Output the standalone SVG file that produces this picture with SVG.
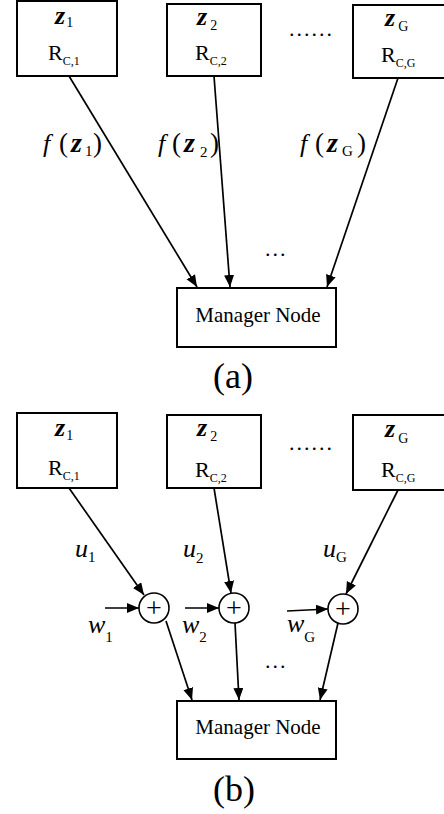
<svg xmlns="http://www.w3.org/2000/svg" width="444" height="814" viewBox="0 0 444 814">
<style>
text{font-family:"Liberation Serif","Times New Roman",serif;fill:#000}
.box{fill:#fff;stroke:#000;stroke-width:2}
.circ{fill:#fff;stroke:#000;stroke-width:1.6}
.arr{stroke:#000;stroke-width:1.7;fill:none;marker-end:url(#ah)}
.z{font-size:28px;font-weight:bold;font-style:italic}
.zb{font-size:26px;font-weight:bold;font-style:italic}
.zs{font-size:14px;font-weight:normal;font-style:normal}
.r{font-size:22px}
.rs{font-size:12px}
.it{font-size:26px;font-style:italic}
.par{font-size:27px}
.sub{font-size:15px;font-style:normal;font-weight:normal}
.mn{font-size:21px}
.cap{font-size:36px}
.dots{font-size:22px;letter-spacing:2px}
.plus{font-size:28px}
</style>
<defs>
<marker id="ah" markerUnits="userSpaceOnUse" markerWidth="13" markerHeight="11" refX="12" refY="5" orient="auto">
<path d="M0,0 L12,5 L0,10 z" fill="#000"/>
</marker>
</defs>

<!-- Panel (a) -->
<g id="a-node1">
<rect class="box" x="17" y="1" width="100" height="75"/>
<text x="55" y="24" class="zb">z<tspan class="zs" dx="1" dy="3">1</tspan></text>
<text x="48" y="60" class="r">R<tspan class="rs" dy="5">C,1</tspan></text>
</g>
<g id="a-node2">
<rect class="box" x="167" y="4" width="94" height="72"/>
<text x="197" y="25" class="zb">z<tspan class="zs" dx="3" dy="5">2</tspan></text>
<text x="195" y="60" class="r">R<tspan class="rs" dy="5">C,2</tspan></text>
</g>
<g id="a-node3">
<rect class="box" x="353" y="5" width="92" height="73"/>
<text x="385" y="26" class="zb">z<tspan class="zs" dx="3" dy="5">G</tspan></text>
<text x="381" y="62" class="r">R<tspan class="rs" dy="5">C,G</tspan></text>
</g>
<text x="289" y="36" class="dots">......</text>
<g id="a-manager">
<rect class="box" x="177" y="288" width="159" height="59"/>
<text x="258" y="322" class="mn" text-anchor="middle">Manager Node</text>
</g>
<g id="a-connectors">
<line class="arr" x1="69" y1="76" x2="197" y2="287"/>
<line class="arr" x1="214" y1="76" x2="230" y2="287"/>
<line class="arr" x1="398" y1="78" x2="327" y2="287"/>
</g>
<g id="a-labels">
<text x="43" y="152" class="it">f</text><text x="59" y="152" class="par">(</text><text x="71" y="152" class="z">z</text><text x="85" y="156" class="sub">1</text><text x="93" y="152" class="par">)</text>
<text x="158" y="152" class="it">f</text><text x="172" y="152" class="par">(</text><text x="184" y="152" class="z">z</text><text x="200" y="157" class="sub">2</text><text x="210" y="152" class="par">)</text>
<text x="300" y="152" class="it">f</text><text x="315" y="152" class="par">(</text><text x="327" y="152" class="z">z</text><text x="342" y="156" class="sub">G</text><text x="357" y="152" class="par">)</text>
<text x="265" y="256" class="dots">...</text>
</g>
<text x="213" y="388" class="cap">(a)</text>

<!-- Panel (b) -->
<g id="b-node1">
<rect class="box" x="17" y="413" width="100" height="75"/>
<text x="55" y="436" class="zb">z<tspan class="zs" dx="1" dy="4">1</tspan></text>
<text x="48" y="475" class="r">R<tspan class="rs" dy="5">C,1</tspan></text>
</g>
<g id="b-node2">
<rect class="box" x="167" y="415" width="94" height="73"/>
<text x="197" y="436" class="zb">z<tspan class="zs" dx="3" dy="5">2</tspan></text>
<text x="195" y="477" class="r">R<tspan class="rs" dy="5">C,2</tspan></text>
</g>
<g id="b-node3">
<rect class="box" x="353" y="415" width="92" height="75"/>
<text x="385" y="437" class="zb">z<tspan class="zs" dx="3" dy="6">G</tspan></text>
<text x="381" y="477" class="r">R<tspan class="rs" dy="5">C,G</tspan></text>
</g>
<text x="289" y="450" class="dots">......</text>
<g id="b-sum1">
<circle class="circ" cx="154" cy="608" r="15"/>
<text x="154" y="617" class="plus" text-anchor="middle">+</text>
</g>
<g id="b-sum2">
<circle class="circ" cx="234" cy="608" r="15"/>
<text x="234" y="617" class="plus" text-anchor="middle">+</text>
</g>
<g id="b-sum3">
<circle class="circ" cx="343" cy="609" r="15"/>
<text x="343" y="618" class="plus" text-anchor="middle">+</text>
</g>
<g id="b-manager">
<rect class="box" x="177" y="701" width="159" height="58"/>
<text x="258" y="734" class="mn" text-anchor="middle">Manager Node</text>
</g>
<g id="b-connectors">
<line class="arr" x1="69" y1="488" x2="144" y2="595"/>
<line class="arr" x1="214" y1="488" x2="231" y2="593"/>
<line class="arr" x1="398" y1="490" x2="346" y2="594"/>
<line class="arr" x1="105" y1="608" x2="139" y2="608"/>
<line class="arr" x1="185" y1="608" x2="219" y2="608"/>
<line class="arr" x1="287" y1="611" x2="328" y2="609"/>
<line class="arr" x1="166" y1="621" x2="192" y2="700"/>
<line class="arr" x1="235" y1="623" x2="239" y2="700"/>
<line class="arr" x1="338" y1="623" x2="320" y2="700"/>
</g>
<g id="b-labels">
<text x="75" y="557" class="it">u<tspan class="sub" dy="5">1</tspan></text>
<text x="183" y="557" class="it">u<tspan class="sub" dy="6">2</tspan></text>
<text x="323" y="557" class="it">u<tspan class="sub" dy="5">G</tspan></text>
<text x="88" y="633" class="it">w<tspan class="sub" dy="9">1</tspan></text>
<text x="182" y="633" class="it">w<tspan class="sub" dy="9">2</tspan></text>
<text x="287" y="632" class="it">w<tspan class="sub" dy="10">G</tspan></text>
<text x="265" y="668" class="dots">...</text>
</g>
<text x="213" y="801" class="cap">(b)</text>
</svg>
